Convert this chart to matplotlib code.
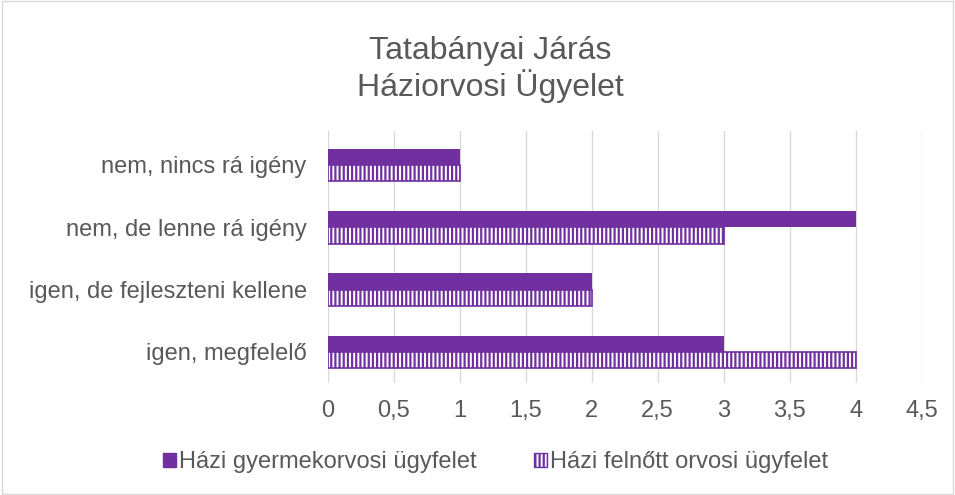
import matplotlib.pyplot as plt
import numpy as np
from matplotlib.patches import Patch

plt.rcParams['font.family'] = ['Liberation Sans', 'DejaVu Sans']
plt.rcParams['hatch.linewidth'] = 1.6

kategoriak = ["nem, nincs rá igény", "nem, de lenne rá igény",
              "igen, de fejleszteni kellene", "igen, megfelelő"]
gyermek = [1, 4, 2, 3]
felnott = [1, 3, 2, 4]
xtickek = [0, 0.5, 1, 1.5, 2, 2.5, 3, 3.5, 4, 4.5]
xcimkek = ["0", "0,5", "1", "1,5", "2", "2,5", "3", "3,5", "4", "4,5"]

lila = "#7030A0"
szurke = "#595959"

fig = plt.figure(figsize=(9.55, 4.95), dpi=100)
ax = fig.add_axes([0.343, 0.226, 0.622, 0.51])

y = np.arange(len(kategoriak))[::-1]
h = 0.26
ax.barh(y + h / 2, gyermek, height=h, color=lila, zorder=3)
ax.barh(y - h / 2, felnott, height=h, facecolor="white", edgecolor=lila, hatch="||||",
        linewidth=0, zorder=3)
ax.barh(y - h / 2, felnott, height=h, facecolor="none", edgecolor=lila, linewidth=1.2, zorder=4)

# jelmagyarazat
proxy = [Patch(facecolor=lila, edgecolor=lila, label="Házi gyermekorvosi ügyfelet"),
         Patch(facecolor="white", edgecolor=lila, hatch="||||", label="Házi felnőtt orvosi ügyfelet")]

ax.set_xlim(0, 4.5)
ax.set_ylim(-0.5, 3.55)
ax.set_xticks(xtickek)
ax.set_xticklabels(xcimkek)
ax.set_yticks(y)
ax.set_yticklabels(kategoriak)
ax.tick_params(axis="both", length=0, labelsize=17, colors=szurke)
ax.tick_params(axis="x", pad=12)
ax.tick_params(axis="y", pad=15)
ax.grid(axis="x", color="#D9D9D9", linewidth=1, zorder=0)
for s in ax.spines.values():
    s.set_visible(False)

fig.text(0.513, 0.927, "Tatabányai Járás\nHáziorvosi Ügyelet", ha="center", va="top",
         fontsize=23, color=szurke, linespacing=1.1)

fig.legend(handles=proxy, loc="center", bbox_to_anchor=(0.519, 0.066), ncol=2, frameon=False,
           fontsize=17, labelcolor=szurke, handlelength=0.55, handleheight=0.55,
           handletextpad=0.15, columnspacing=2.4)

fig.patches.append(plt.Rectangle((0.002, 0.002), 0.996, 0.996, transform=fig.transFigure,
                                 fill=False, edgecolor="#D9D9D9", linewidth=1))

fig.savefig("out.png", dpi=100)
